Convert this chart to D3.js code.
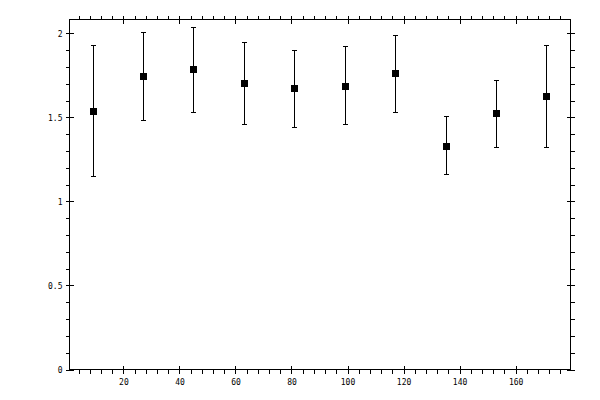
<!DOCTYPE html>
<html>
<head>
    <script src="https://d3js.org/d3.v7.min.js"></script>
    <style>
        body { margin: 0; background: #fff; }
        svg { display: block; }
        .axis text { font-family: "DejaVu Sans Mono", monospace; font-size: 8px; fill: #000; }
        .axis line { stroke: #000; stroke-width: 1; }
    </style>
</head>
<body>
    <svg id="chart"></svg>
    <script>
        // Data
        const xs = [9, 27, 45, 63, 81, 99, 117, 135, 153, 171];
        const means = [1.536, 1.744, 1.786, 1.708, 1.673, 1.690, 1.762, 1.333, 1.524, 1.625];
        const upper = [1.929, 2.010, 2.036, 1.950, 1.903, 1.923, 1.992, 1.506, 1.720, 1.930];
        const lower = [1.151, 1.482, 1.530, 1.464, 1.446, 1.464, 1.530, 1.161, 1.327, 1.327];

        const xMajor = [20, 40, 60, 80, 100, 120, 140, 160];
        const xMinor = d3.range(4, 180, 4).filter(v => v % 20 !== 0);
        const yMajor = [0, 0.5, 1, 1.5, 2];
        const yMinor = [0.1, 0.2, 0.3, 0.4, 0.6, 0.7, 0.8, 0.9, 1.1, 1.2, 1.3, 1.4, 1.6, 1.7, 1.8, 1.9];

        const width = 600, height = 400;
        const mLeft = 69.5, mRight = 570.5, mTop = 19.5, mBottom = 369.5;

        const svg = d3.select("#chart")
            .attr("width", width)
            .attr("height", height);

        const x = d3.scaleLinear().domain([0.75, 179.6]).range([mLeft, mRight]);
        const y = d3.scaleLinear().domain([0, 2.083]).range([mBottom, mTop]);

        const points = xs.map((v, i) => ({x: v, m: means[i], hi: upper[i], lo: lower[i]}));

        // Frame
        svg.append("rect")
            .attr("x", mLeft).attr("y", mTop)
            .attr("width", mRight - mLeft).attr("height", mBottom - mTop)
            .attr("fill", "none").attr("stroke", "#000")
            .attr("shape-rendering", "crispEdges");

        // Axes: major ticks cross the frame, minor ticks sit outside
        // bottom
        svg.append("g").attr("class", "axis").attr("transform", `translate(0,${mBottom})`)
            .call(d3.axisBottom(x).tickValues(xMinor).tickSize(4).tickFormat(""));
        const gBot = svg.append("g").attr("class", "axis").attr("transform", `translate(0,${mBottom})`)
            .call(d3.axisBottom(x).tickValues(xMajor).tickSize(4).tickPadding(6).tickFormat(d3.format("d")));
        gBot.selectAll(".tick line").attr("y1", -4);

        // top
        svg.append("g").attr("class", "axis").attr("transform", `translate(0,${mTop})`)
            .call(d3.axisTop(x).tickValues(xMinor).tickSize(4).tickFormat(""));
        const gTop = svg.append("g").attr("class", "axis").attr("transform", `translate(0,${mTop})`)
            .call(d3.axisTop(x).tickValues(xMajor).tickSize(4).tickFormat(""));
        gTop.selectAll(".tick line").attr("y1", 4);

        // left
        svg.append("g").attr("class", "axis").attr("transform", `translate(${mLeft},0)`)
            .call(d3.axisLeft(y).tickValues(yMinor).tickSize(4).tickFormat(""));
        const gLeft = svg.append("g").attr("class", "axis").attr("transform", `translate(${mLeft},0)`)
            .call(d3.axisLeft(y).tickValues(yMajor).tickSize(4).tickPadding(3).tickFormat(d3.format("")));
        gLeft.selectAll(".tick line").attr("x1", 4);

        // right
        svg.append("g").attr("class", "axis").attr("transform", `translate(${mRight},0)`)
            .call(d3.axisRight(y).tickValues(yMinor).tickSize(4).tickFormat(""));
        const gRight = svg.append("g").attr("class", "axis").attr("transform", `translate(${mRight},0)`)
            .call(d3.axisRight(y).tickValues(yMajor).tickSize(4).tickFormat(""));
        gRight.selectAll(".tick line").attr("x1", -4);

        svg.selectAll(".axis .domain").remove();
        svg.selectAll(".axis").attr("shape-rendering", "crispEdges");

        // Error bars
        const bars = svg.append("g").attr("shape-rendering", "crispEdges");
        bars.selectAll(".stem")
            .data(points)
            .join("line")
                .attr("x1", d => Math.round(x(d.x)) + 0.5)
                .attr("x2", d => Math.round(x(d.x)) + 0.5)
                .attr("y1", d => y(d.hi))
                .attr("y2", d => y(d.lo))
                .attr("stroke", "#000");
        bars.selectAll(".capTop")
            .data(points)
            .join("line")
                .attr("x1", d => Math.round(x(d.x)) - 2)
                .attr("x2", d => Math.round(x(d.x)) + 3)
                .attr("y1", d => Math.round(y(d.hi)) + 0.5)
                .attr("y2", d => Math.round(y(d.hi)) + 0.5)
                .attr("stroke", "#000");
        bars.selectAll(".capBot")
            .data(points)
            .join("line")
                .attr("x1", d => Math.round(x(d.x)) - 2)
                .attr("x2", d => Math.round(x(d.x)) + 3)
                .attr("y1", d => Math.round(y(d.lo)) + 0.5)
                .attr("y2", d => Math.round(y(d.lo)) + 0.5)
                .attr("stroke", "#000");

        // Square markers
        svg.append("g")
            .selectAll("rect")
            .data(points)
            .join("rect")
                .attr("x", d => Math.round(x(d.x)) - 3)
                .attr("y", d => Math.round(y(d.m)) - 3)
                .attr("width", 7)
                .attr("height", 7)
                .attr("fill", "#000")
                .attr("shape-rendering", "crispEdges");
    </script>
</body>
</html>
